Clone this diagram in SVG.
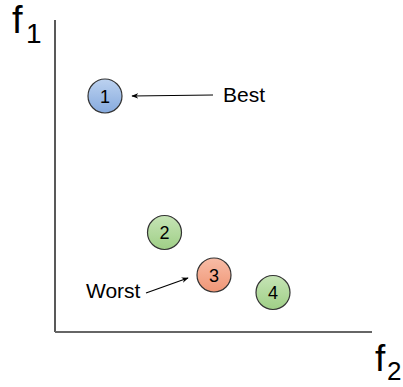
<svg xmlns="http://www.w3.org/2000/svg" width="403" height="387" viewBox="0 0 403 387">
<style>
.lbl{font-family:"Liberation Sans",Arial,sans-serif;fill:#000}
.num{font-family:"Liberation Sans",Arial,sans-serif;font-size:18px;fill:#000;text-anchor:middle}
.pt{stroke:#333;stroke-width:1.2}
.conn{stroke:#000;stroke-width:1.2;fill:none}
</style>
<defs>
<linearGradient id="gb" x1="0" y1="0" x2="0" y2="1"><stop offset="0" stop-color="#bcd2f0"/><stop offset="1" stop-color="#86aade"/></linearGradient>
<linearGradient id="gg" x1="0" y1="0" x2="0" y2="1"><stop offset="0" stop-color="#c6e4b6"/><stop offset="1" stop-color="#9fcf86"/></linearGradient>
<linearGradient id="go" x1="0" y1="0" x2="0" y2="1"><stop offset="0" stop-color="#f8bca6"/><stop offset="1" stop-color="#ef9676"/></linearGradient>
<marker id="ah" viewBox="0 0 10 10" refX="9" refY="5" markerWidth="7" markerHeight="7" orient="auto" markerUnits="userSpaceOnUse"><path d="M0,1 L10,5 L0,9 L3,5 Z" fill="#000"/></marker>
</defs>
<g id="axes">
<line x1="55" y1="20" x2="55" y2="332" stroke="#222" stroke-width="1.5"/>
<line x1="55" y1="332" x2="372" y2="332" stroke="#666" stroke-width="2"/>
<text class="lbl" x="12" y="33" font-size="38">f</text>
<text class="lbl" x="26" y="43" font-size="28">1</text>
<text class="lbl" x="375" y="371" font-size="37">f</text>
<text class="lbl" x="387" y="380" font-size="26">2</text>
</g>
<g id="connectors">
<line class="conn" x1="213" y1="95" x2="132" y2="96" marker-end="url(#ah)"/>
<line class="conn" x1="146" y1="293" x2="188" y2="278" marker-end="url(#ah)"/>
</g>
<g id="n1"><circle class="pt" cx="105" cy="96" r="17" fill="url(#gb)"/><text class="num" x="105" y="102.5">1</text></g>
<g id="n2"><circle class="pt" cx="164.5" cy="232.5" r="17" fill="url(#gg)"/><text class="num" x="164.5" y="239">2</text></g>
<g id="n3"><circle class="pt" cx="214" cy="275" r="17" fill="url(#go)"/><text class="num" x="214" y="281.5">3</text></g>
<g id="n4"><circle class="pt" cx="273" cy="292.5" r="17" fill="url(#gg)"/><text class="num" x="273" y="299">4</text></g>
<g id="best"><text class="lbl" x="223" y="102" font-size="21">Best</text></g>
<g id="worst"><text class="lbl" x="86" y="298" font-size="21">Worst</text></g>
</svg>
